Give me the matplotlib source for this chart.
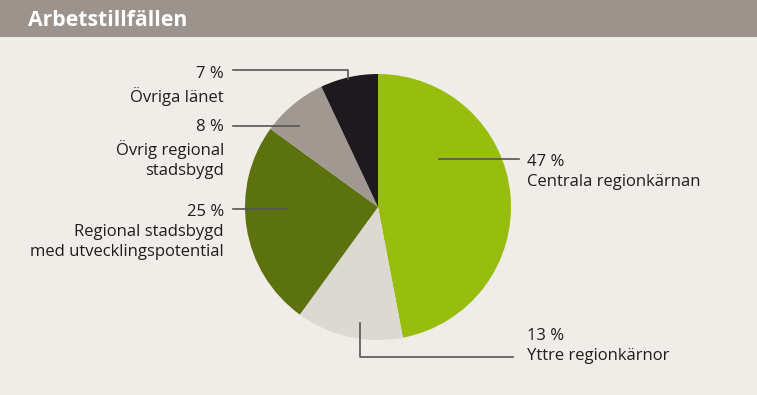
import matplotlib
matplotlib.use("Agg")
import matplotlib.pyplot as plt
from matplotlib.patches import Rectangle

# Data
labels = ["Centrala regionkärnan", "Yttre regionkärnor",
          "Regional stadsbygd\nmed utvecklingspotential",
          "Övrig regional\nstadsbygd", "Övriga länet"]
shares = [47, 13, 25, 8, 7]
colors = ["#97be0d", "#dcd9d3", "#5c720f", "#a09891", "#1c1a1f"]
title = "Arbetstillfällen"

W, H = 757, 395
plt.rcParams['font.family'] = ['Open Sans', 'DejaVu Sans']

fig = plt.figure(figsize=(W / 100, H / 100), dpi=100)
fig.patch.set_facecolor("#f0ede9")
ax = fig.add_axes([0, 0, 1, 1])

# header band
ax.add_patch(Rectangle((0, 0), W, 37, color="#9b938c", lw=0))
ax.text(28, 20, title, color="white", fontsize=15.3, fontweight="bold",
        va="center", ha="left")

# pie (y axis inverted -> counterclock=True draws clockwise on screen)
ax.pie(shares, colors=colors, startangle=-90, counterclock=True,
       center=(378, 207), radius=133, frame=True,
       wedgeprops=dict(linewidth=0))
ax.set_xlim(0, W)
ax.set_ylim(H, 0)  # pixel coords, y down
ax.set_aspect("equal")
ax.axis("off")

lc = "#555555"
lw = 1.2
txt = "#1e1e1e"
fs = 12

# leader lines
ax.plot([233, 348, 348], [70, 70, 79], color=lc, lw=lw)
ax.plot([233, 299], [126, 126], color=lc, lw=lw)
ax.plot([233, 286], [209, 209], color=lc, lw=lw)
ax.plot([439, 519], [159, 159], color=lc, lw=lw)
ax.plot([360, 360, 513], [323, 357, 357], color=lc, lw=lw)

# labels on left (right aligned)
left_pos = {4: 66, 3: 119, 2: 204}
for i, y in left_pos.items():
    ax.text(224, y, f"{shares[i]} %\n{labels[i]}", ha="right", va="top",
            fontsize=fs, color=txt, linespacing=1.33)
# right side
right_pos = {0: 154, 1: 328}
for i, y in right_pos.items():
    ax.text(527, y, f"{shares[i]} %\n{labels[i]}", ha="left", va="top",
            fontsize=fs, color=txt, linespacing=1.33)

fig.savefig("out.png", dpi=100, facecolor=fig.get_facecolor())
